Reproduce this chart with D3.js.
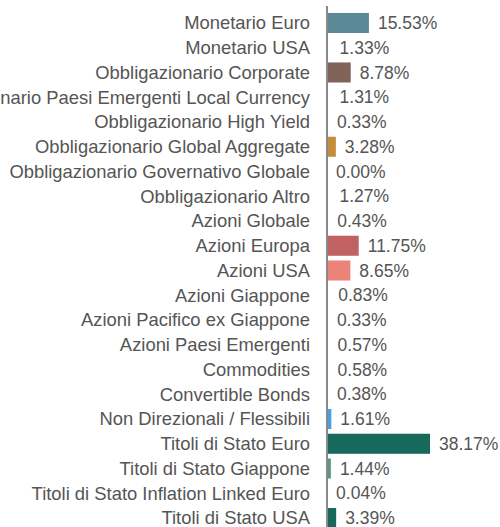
<!DOCTYPE html>
<html>
<head>
<meta charset="utf-8">
<script src="https://cdn.jsdelivr.net/npm/d3@7"></script>
<style>
html,body{margin:0;padding:0;background:#fff;}
svg{display:block;}
</style>
</head>
<body>
<svg id="chart" width="500" height="527"></svg>
<script>
const categories = [
  "Monetario Euro",
  "Monetario USA",
  "Obbligazionario Corporate",
  "Obbligazionario Paesi Emergenti Local Currency",
  "Obbligazionario High Yield",
  "Obbligazionario Global Aggregate",
  "Obbligazionario Governativo Globale",
  "Obbligazionario Altro",
  "Azioni Globale",
  "Azioni Europa",
  "Azioni USA",
  "Azioni Giappone",
  "Azioni Pacifico ex Giappone",
  "Azioni Paesi Emergenti",
  "Commodities",
  "Convertible Bonds",
  "Non Direzionali / Flessibili",
  "Titoli di Stato Euro",
  "Titoli di Stato Giappone",
  "Titoli di Stato Inflation Linked Euro",
  "Titoli di Stato USA"
];
const values = [15.53, 1.33, 8.78, 1.31, 0.33, 3.28, 0.00, 1.27, 0.43, 11.75, 8.65, 0.83, 0.33, 0.57, 0.58, 0.38, 1.61, 38.17, 1.44, 0.04, 3.39];
const colors = ["#5b8a96", "#ffffff", "#7f6358", "#ffffff", "#ffffff", "#c48c3c", "#ffffff", "#ffffff", "#ffffff", "#c06262", "#ec8379", "#ffffff", "#ffffff", "#ffffff", "#ffffff", "#ffffff", "#4a9fe0", "#17695c", "#5a9a80", "#ffffff", "#17695c"];

const data = categories.map((c, i) => ({cat: c, val: values[i], color: colors[i]}));

const svg = d3.select("#chart");
const x0 = 327;
const x = d3.scaleLinear().domain([0, 38.17]).range([x0, 430]);
const y = d3.scaleBand().domain(categories).range([10.6, 530.4]).paddingInner(0.19).paddingOuter(0.095);

const fontFamily = "'Liberation Sans', Arial, sans-serif";

svg.append("g").selectAll("rect").data(data).enter().append("rect")
  .attr("x", x(0))
  .attr("y", d => y(d.cat))
  .attr("width", d => x(d.val) - x(0))
  .attr("height", y.bandwidth())
  .attr("fill", d => d.color);

svg.append("line")
  .attr("x1", x0).attr("x2", x0)
  .attr("y1", 6).attr("y2", 527)
  .attr("stroke", "#888").attr("stroke-width", 2);

svg.append("g").selectAll("text.cat").data(data).enter().append("text")
  .attr("class", "cat")
  .attr("x", 310)
  .attr("y", d => y(d.cat) + y.bandwidth() / 2)
  .attr("dy", "0.35em")
  .attr("text-anchor", "end")
  .attr("font-family", fontFamily)
  .attr("font-size", 18.4)
  .attr("fill", "#555")
  .text(d => d.cat);

svg.append("g").selectAll("text.val").data(data).enter().append("text")
  .attr("class", "val")
  .attr("x", d => x(d.val) + 9)
  .attr("y", d => y(d.cat) + y.bandwidth() / 2)
  .attr("dy", "0.35em")
  .attr("font-family", fontFamily)
  .attr("font-size", 17.5)
  .attr("fill", "#555")
  .text(d => d.val.toFixed(2) + "%");
</script>
</body>
</html>
